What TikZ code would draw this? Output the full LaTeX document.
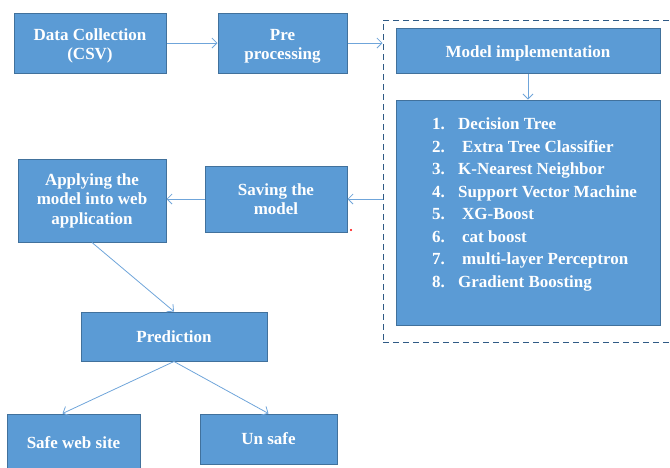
\documentclass[tikz,border=0pt]{standalone}
\usepackage{fontspec}
\setmainfont{Liberation Serif}
\usetikzlibrary{arrows.meta,calc}
\definecolor{boxfill}{HTML}{5B9BD5}
\definecolor{boxline}{HTML}{41719C}
\definecolor{arrowc}{HTML}{6FA5DA}
\definecolor{dashc}{HTML}{2F5A85}
\tikzset{
  blk/.style={draw=boxline, line width=1pt, fill=boxfill, text=white,
    font=\fontsize{17}{19.5}\selectfont\bfseries, align=center, inner sep=0pt},
  conn/.style={draw=arrowc, line width=0.8pt, -{Straight Barb[length=5pt,width=10pt,line width=0.8pt]}},
}
\newcommand{\boxat}[6]{% name, x1, y1, x2, y2, text
  \node[blk, minimum width={#4-#2}, minimum height={#5-#3}] (#1) at ({(#2+#4)/2},{(#3+#5)/2}) {#6};}
\newcommand{\lowr}{\rule{0pt}{18pt}}
\begin{document}
\begin{tikzpicture}[x=1pt,y=-1pt]
\useasboundingbox (0,0) rectangle (670,467);
\clip (0,0) rectangle (670,467);
% dashed container
\node[draw=dashc, line width=1pt, dash pattern=on 6pt off 4pt, minimum width=292, minimum height=322, inner sep=0pt] (dash) at (529,181) {};
\boxat{dc}{14}{13}{166}{73}{\lowr Data Collection\\(CSV)}
\boxat{pre}{218}{13}{347}{73}{\lowr Pre\\processing}
\boxat{mi}{396}{28}{660}{73}{\lowr Model implementation}
\boxat{list}{396}{100}{660}{325}{}
\boxat{save}{205}{166}{347}{232}{Saving the\\model}
\boxat{app}{18}{159}{166}{242}{Applying the\\model into web\\application}
\boxat{pred}{81}{312}{267}{361}{Prediction}
\boxat{safe}{7}{414}{140}{472}{Safe web site}
\boxat{unsafe}{200}{414}{337}{464}{Un safe}
% list text
\node[anchor=north west, text=white, inner sep=0pt, align=left,
  font=\fontsize{17}{22.5}\selectfont\bfseries] (items) at (432,117.5) {%
\makebox[26pt][l]{1.}Decision Tree\\
\makebox[26pt][l]{2.}\hspace{4pt}Extra Tree Classifier\\
\makebox[26pt][l]{3.}K-Nearest Neighbor\\
\makebox[26pt][l]{4.}Support Vector Machine\\
\makebox[26pt][l]{5.}\hspace{4pt}XG-Boost\\
\makebox[26pt][l]{6.}\hspace{4pt}cat boost\\
\makebox[26pt][l]{7.}\hspace{4pt}multi-layer Perceptron\\
\makebox[26pt][l]{8.}Gradient Boosting};
% connectors
\draw[conn] (dc.east) -- (pre.west);
\draw[conn] (pre.east) -- (pre.east -| dash.west);
\draw[conn] (mi.south) -- (list.north);
\draw[conn] (save.east -| dash.west) -- (save.east);
\draw[conn] (save.west) -- (save.west -| app.east);
\draw[conn] (app.south) -- (pred.north);
\draw[conn] (pred.south) -- ([xshift=-11pt]safe.north);
\draw[conn] (pred.south) -- (unsafe.north);
\fill[red] (351,230) circle (1.2);
\end{tikzpicture}
\end{document}
